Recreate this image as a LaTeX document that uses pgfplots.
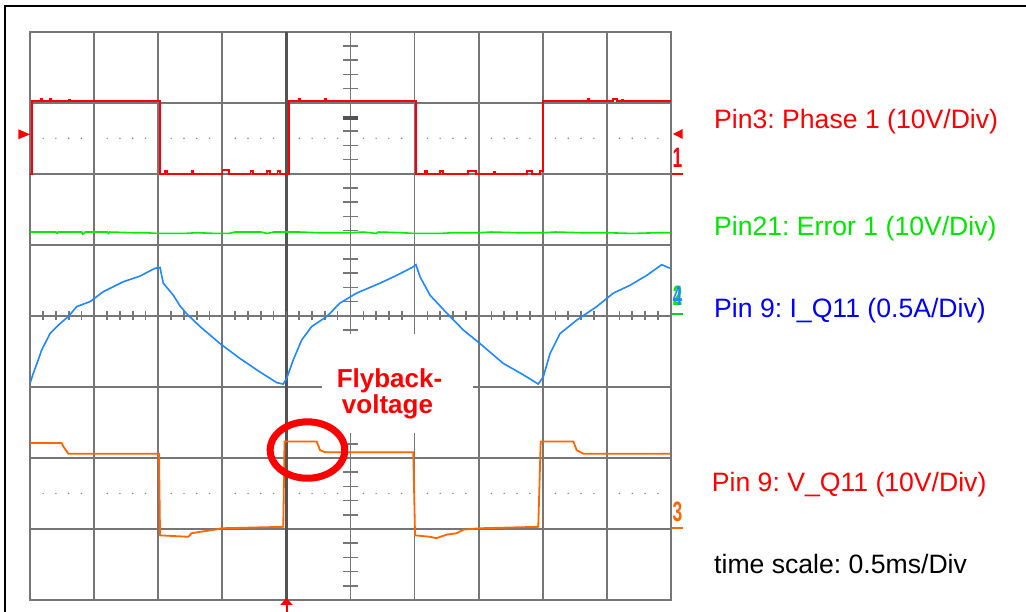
\documentclass[border=0pt]{standalone}
\usepackage{pgfplots}
\pgfplotsset{compat=1.18}
\usepackage{fontspec}
\setmainfont{Liberation Sans}
\usetikzlibrary{arrows.meta}

\definecolor{gridgray}{RGB}{118,118,118}
\definecolor{dotgray}{RGB}{130,130,130}
\definecolor{scopered}{RGB}{255,0,0}
\definecolor{scopegreen}{RGB}{0,235,0}
\definecolor{scopeblue}{RGB}{30,136,255}
\definecolor{scopeorange}{RGB}{255,102,0}
\definecolor{labelgreen}{RGB}{0,230,0}
\definecolor{labelblue}{RGB}{0,0,255}

\newcommand{\labelfont}{\fontsize{26.6bp}{30bp}\selectfont}
\newcommand{\markfont}{\fontsize{28bp}{30bp}\selectfont\bfseries}

\begin{document}
\frenchspacing
\begin{tikzpicture}
\useasboundingbox (0,0) rectangle (1026bp,612bp);
% outer frame (top and left edges)
\draw[black, line width=1.6bp] (5bp,0) -- (5bp,606bp) -- (1026bp,606bp);

\begin{axis}[
  at={(30.3bp,12bp)}, anchor=south west,
  width=640.4bp, height=568.3bp, scale only axis,
  xmin=0, xmax=5, ymin=-4, ymax=4,
  xtick={0,0.5,1,1.5,2,2.5,3,3.5,4,4.5,5},
  ytick={-4,-3,-2,-1,0,1,2,3,4},
  xticklabels={}, yticklabels={},
  tick style={draw=none},
  grid=major,
  grid style={line width=1.9bp, color=gridgray},
  axis line style={line width=1.9bp, color=gridgray},
  clip=false,
]
% trigger position line
\draw[gridgray!70!black, line width=3.2bp] (axis cs:2,-4) -- (axis cs:2,4);
% minor ticks on the centre cross
\pgfplotsinvokeforeach{1,...,49}{
  \draw[gridgray, line width=1.6bp] (axis cs:#1*0.1,-0.065) -- (axis cs:#1*0.1,0.065);
}
\pgfplotsinvokeforeach{-19,...,19}{
  \draw[gridgray, line width=1.6bp] (axis cs:2.445,#1*0.2) -- (axis cs:2.555,#1*0.2);
}
\fill[gridgray!70!black] (axis cs:2.445,2.76) rectangle (axis cs:2.555,2.82);
% dotted reference rows
\pgfplotsinvokeforeach{1,2,3,4,6,7,8,9,11,12,13,14,16,17,18,19,21,22,23,24,26,27,28,29,31,32,33,34,36,37,38,39,41,42,43,44,46,47,48,49}{
  \fill[dotgray] (axis cs:#1*0.1,2.5) circle[radius=0.8bp];
  \fill[dotgray] (axis cs:#1*0.1,-2.5) circle[radius=0.8bp];
}
% label background
\fill[white] (axis cs:2.278,-0.256) rectangle (axis cs:3.456,-1.65);

% Ch2: Error 1
\addplot[scopegreen, line width=1.6bp] coordinates {
(0,1.18)(0.2,1.18)(0.21,1.16)(0.22,1.18)(0.4,1.18)(0.41,1.15)(0.43,1.18)
(0.6,1.18)(0.61,1.16)(0.62,1.18)(0.8,1.17)(0.9,1.17)(1.0,1.16)(1.2,1.16)
(1.3,1.17)(1.45,1.16)(1.55,1.16)(1.6,1.18)(1.8,1.18)(1.85,1.16)(1.9,1.18)
(2.1,1.18)(2.25,1.17)(2.5,1.17)(2.6,1.18)(2.7,1.16)(2.72,1.18)(2.9,1.17)
(3.0,1.16)(3.2,1.16)(3.3,1.17)(3.5,1.17)(3.6,1.18)(3.8,1.17)(4.0,1.17)
(4.1,1.18)(4.3,1.17)(4.5,1.17)(4.7,1.16)(4.9,1.17)(5.0,1.17)};

% Ch4: I_Q11
\addplot[scopeblue, line width=1.6bp] coordinates {
(0,-0.94)(0.023,-0.81)(0.062,-0.62)(0.089,-0.48)(0.154,-0.25)(0.219,-0.13)
(0.297,-0.01)(0.362,0.13)(0.466,0.20)(0.570,0.34)(0.726,0.48)(0.857,0.56)
(0.974,0.67)(1.013,0.68)(1.038,0.46)(1.117,0.29)(1.169,0.14)(1.221,0.03)
(1.325,-0.15)(1.481,-0.39)(1.637,-0.60)(1.793,-0.79)(1.924,-0.94)(1.975,-0.96)
(2.002,-0.88)(2.053,-0.62)(2.119,-0.34)(2.197,-0.15)(2.314,-0.01)(2.418,0.18)
(2.548,0.32)(2.730,0.46)(2.861,0.57)(2.990,0.69)(3.011,0.72)(3.043,0.55)
(3.121,0.29)(3.251,0.04)(3.381,-0.20)(3.511,-0.39)(3.693,-0.67)(3.849,-0.83)
(3.966,-0.96)(4.005,-0.86)(4.058,-0.53)(4.136,-0.25)(4.266,-0.06)(4.422,0.13)
(4.552,0.32)(4.682,0.43)(4.813,0.57)(4.930,0.72)(4.995,0.67)};

% Ch3: V_Q11
\addplot[scopeorange, line width=1.8bp] coordinates {
(0,-1.79)(0.245,-1.79)(0.258,-1.84)(0.297,-1.94)(1.005,-1.94)(1.013,-3.09)
(1.234,-3.11)(1.260,-3.06)(1.325,-3.04)(1.442,-3.01)(1.494,-2.99)(1.975,-2.97)
(1.985,-1.77)(2.236,-1.77)(2.262,-1.89)(2.301,-1.92)(2.990,-1.92)(3.004,-3.09)
(3.121,-3.11)(3.17,-3.13)(3.251,-3.08)(3.329,-3.06)(3.381,-3.01)(3.511,-2.99)
(3.966,-2.97)(3.985,-1.77)(4.240,-1.77)(4.266,-1.89)(4.318,-1.94)(4.995,-1.94)};

% Ch1: Phase 1
\addplot[scopered, line width=1.8bp] coordinates {
(0,2.0)(0.011,2.0)(0.011,3.02)
(0.08,3.02)(0.08,3.05)(0.09,3.05)(0.09,3.02)(0.15,3.02)(0.15,3.05)(0.16,3.05)(0.16,3.02)
(0.3,3.02)(0.3,3.04)(0.31,3.04)(0.31,3.02)
(1.013,3.02)(1.013,2.0)
(1.05,2.0)(1.05,2.04)(1.07,2.04)(1.07,2.0)(1.26,2.0)(1.26,2.04)(1.27,2.04)(1.27,2.0)
(1.5,2.0)(1.5,2.05)(1.55,2.05)(1.55,2.0)(1.72,2.0)(1.72,2.04)(1.74,2.04)(1.74,2.0)
(1.85,2.0)(1.85,2.04)(1.87,2.04)(1.87,2.0)(1.93,2.0)(1.93,2.04)(1.95,2.04)(1.95,2.0)
(2.018,2.0)(2.018,3.02)
(2.1,3.02)(2.1,3.05)(2.11,3.05)(2.11,3.02)(2.3,3.02)(2.3,3.05)(2.31,3.05)(2.31,3.02)
(3.011,3.02)(3.011,2.0)
(3.08,2.0)(3.08,2.04)(3.1,2.04)(3.1,2.0)(3.2,2.0)(3.2,2.04)(3.22,2.04)(3.22,2.0)
(3.42,2.0)(3.42,2.04)(3.48,2.04)(3.48,2.0)(3.62,2.0)(3.62,2.03)(3.63,2.03)(3.63,2.0)
(3.88,2.0)(3.88,2.04)(3.92,2.04)(3.92,2.0)(3.98,2.0)(3.98,2.04)(4.005,2.04)
(4.005,3.02)
(4.35,3.02)(4.35,3.05)(4.36,3.05)(4.36,3.02)(4.55,3.02)(4.55,3.05)(4.58,3.05)(4.58,3.02)
(4.62,3.02)(4.62,3.04)(4.63,3.04)(4.63,3.02)(5,3.02)};

% flyback highlight
\draw[scopered, line width=7bp] (axis cs:2.164,-1.889) ellipse[x radius=37.3bp, y radius=28.2bp];
\end{axis}

% channel markers
\fill[scopered] (30bp,477.7bp) -- (18.3bp,482.7bp) -- (18.3bp,472.7bp) -- cycle;
\fill[scopered] (673bp,478bp) -- (682.7bp,483bp) -- (682.7bp,473bp) -- cycle;
\node[anchor=base west, inner sep=0, text=scopered, xscale=0.62] at (672.5bp,444.7bp) {\markfont 1};
\draw[scopered, line width=2.2bp] (672bp,438bp) -- (683bp,438bp);
\node[anchor=base west, inner sep=0, text=scopegreen, xscale=0.6] at (672.8bp,306bp) {\markfont 2};
\node[anchor=base west, inner sep=0, text=scopeblue, xscale=0.6] at (672.8bp,306bp) {\markfont 4};
\draw[scopegreen!80!teal, line width=2.2bp] (672bp,297.7bp) -- (683bp,297.7bp);
\node[anchor=base west, inner sep=0, text=scopeorange, xscale=0.62] at (672.5bp,90.3bp) {\markfont 3};
\draw[scopeorange, line width=2.2bp] (672bp,84.3bp) -- (683bp,84.3bp);
\draw[scopered, line width=2bp, -{Triangle[width=12bp,length=7bp]}] (286.5bp,0bp) -- (286.5bp,14bp);

% annotation
\node[anchor=base, inner sep=0, text=scopered, font=\fontsize{26bp}{30bp}\selectfont\bfseries] at (389.5bp,224.3bp) {Flyback-};
\node[anchor=base, inner sep=0, text=scopered, font=\fontsize{26bp}{30bp}\selectfont\bfseries] at (387.5bp,198.3bp) {voltage};

% channel descriptions
\node[anchor=base west, inner sep=0, text=scopered] at (714bp,483.7bp) {\labelfont Pin3: Phase 1 (10V/Div)};
\node[anchor=base west, inner sep=0, text=labelgreen] at (714bp,376bp) {\labelfont Pin21: Error 1 (10V/Div)};
\node[anchor=base west, inner sep=0, text=labelblue] at (714bp,294.7bp) {\labelfont Pin 9: I\_Q11 (0.5A/Div)};
\node[anchor=base west, inner sep=0, text=scopered] at (711.7bp,120.3bp) {\labelfont Pin 9: V\_Q11 (10V/Div)};
\node[anchor=base west, inner sep=0, text=black] at (714bp,38.7bp) {\labelfont time scale: 0.5ms/Div};
\end{tikzpicture}
\end{document}
